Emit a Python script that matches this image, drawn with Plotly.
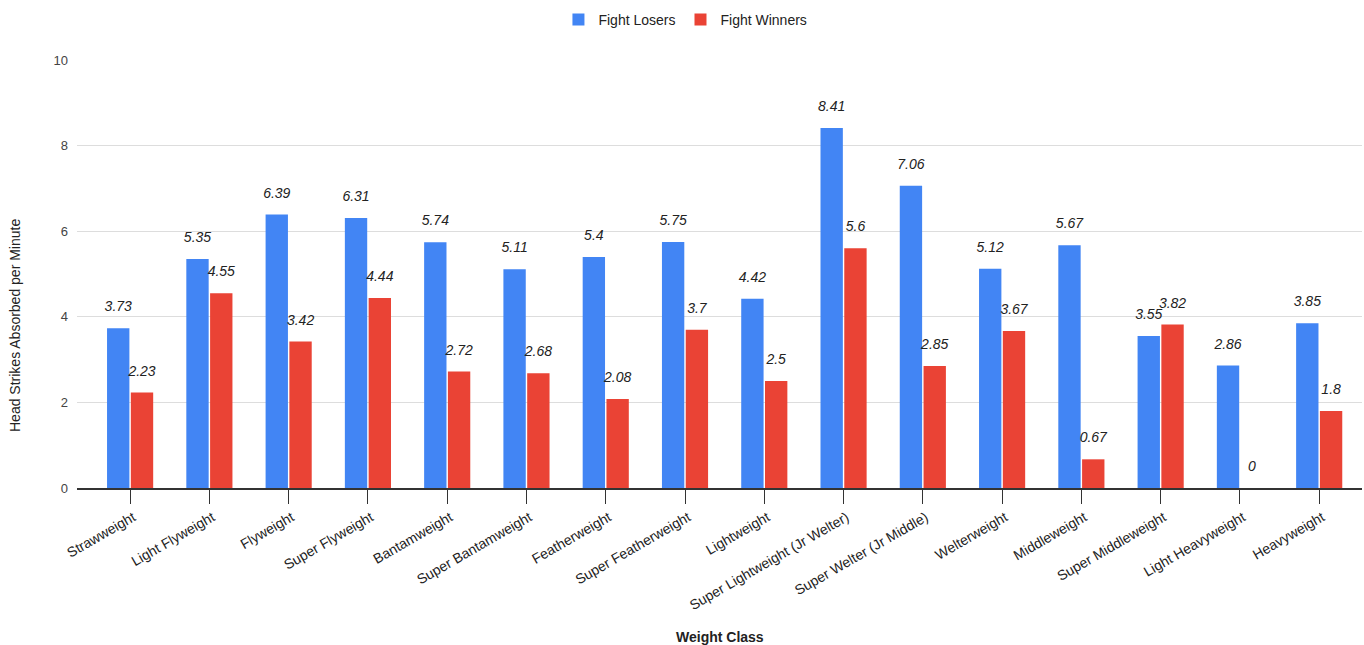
import plotly.graph_objects as go

categories = ["Strawweight", "Light Flyweight", "Flyweight", "Super Flyweight", "Bantamweight",
              "Super Bantamweight", "Featherweight", "Super Featherweight", "Lightweight",
              "Super Lightweight (Jr Welter)", "Super Welter (Jr Middle)", "Welterweight",
              "Middleweight", "Super Middleweight", "Light Heavyweight", "Heavyweight"]
losers = [3.73, 5.35, 6.39, 6.31, 5.74, 5.11, 5.4, 5.75, 4.42, 8.41, 7.06, 5.12, 5.67, 3.55, 2.86, 3.85]
winners = [2.23, 4.55, 3.42, 4.44, 2.72, 2.68, 2.08, 3.7, 2.5, 5.6, 2.85, 3.67, 0.67, 3.82, 0, 1.8]
y_ticks = [0, 2, 4, 6, 8, 10]

BLUE = "#4285F4"
RED = "#EA4335"
FONT = "Liberation Sans, Arial, sans-serif"

fig = go.Figure()
fig.add_trace(go.Bar(x=categories, y=losers, name="Fight Losers", marker_color=BLUE,
                     offsetgroup="L", marker_line_width=0))
fig.add_trace(go.Bar(x=categories, y=winners, name="Fight Winners", marker_color=RED,
                     offsetgroup="W", marker_line_width=0))
# value labels above bars
for vals, grp in [(losers, "L"), (winners, "W")]:
    fig.add_trace(go.Scatter(x=categories, y=vals, mode="markers+text", text=[f"{v:g}" for v in vals],
                             textposition="top center", offsetgroup=grp, showlegend=False,
                             hoverinfo="skip",
                             marker=dict(size=20, opacity=0),
                             textfont=dict(family=FONT, size=14, color="#222222", style="italic")))

fig.update_layout(
    width=1364, height=645,
    margin=dict(l=77, r=2, t=60, b=157),
    plot_bgcolor="white", paper_bgcolor="white",
    barmode="group", bargap=0.4, bargroupgap=0.06,
    scattermode="group", scattergap=0.4,
    font=dict(family=FONT, size=14, color="#222222"),
    showlegend=True,
    legend=dict(orientation="h", x=0.4735, xanchor="center", yref="container", y=1 - 20 / 645,
                yanchor="middle", font=dict(size=14, color="#222222"), itemclick=False),
    xaxis=dict(tickangle=-30, ticks="outside", ticklen=14, tickcolor="#333333", tickwidth=1,
               showline=True, linecolor="#333333", linewidth=2, showgrid=False,
               ticklabelshift=3,
               range=[-0.67, 15.54], tickfont=dict(size=14, color="#222222")),
    yaxis=dict(range=[0, 10], tickvals=y_ticks, showgrid=True, gridcolor="#dddddd", gridwidth=1,
               zeroline=False, tickfont=dict(size=13, color="#444444"), ticks="", ticklabelstandoff=8),
    annotations=[
        dict(text="<b>Weight Class</b>", xref="paper", yref="paper", x=0.5, y=-(637 - 488) / 428,
             xanchor="center", yanchor="middle", showarrow=False, font=dict(size=14, color="#222222")),
        dict(text="Head Strikes Absorbed per Minute", xref="paper", yref="paper",
             x=(15 - 77) / 1285, y=(488 - 326) / 428, xanchor="center", yanchor="middle", textangle=-90,
             showarrow=False, font=dict(size=14, color="#222222")),
    ],
)

fig.write_html("out.html")
